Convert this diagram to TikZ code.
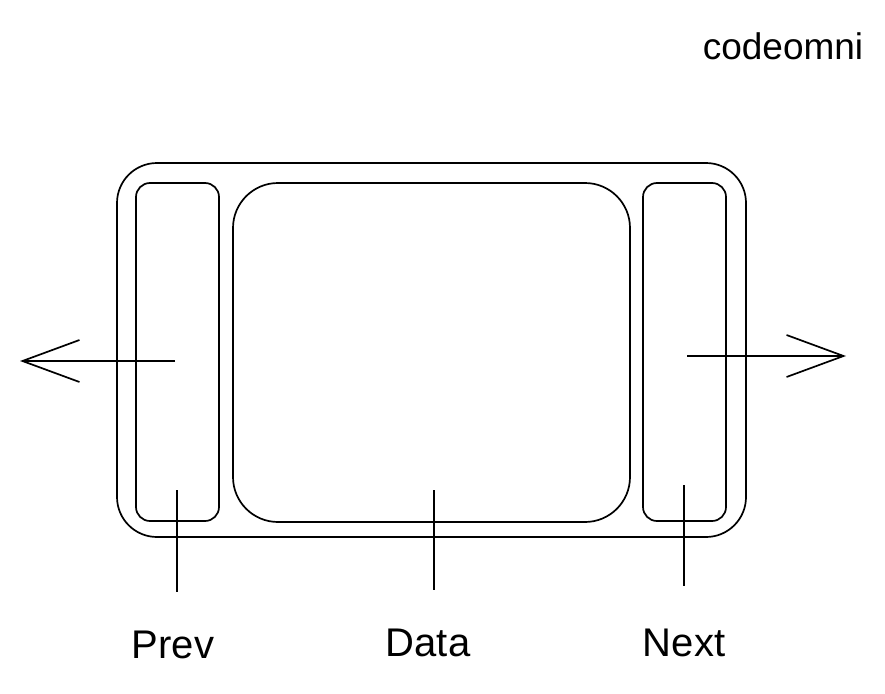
\documentclass[tikz,border=0pt]{standalone}
\usepackage{fontspec}
\setmainfont{Liberation Sans}
\usetikzlibrary{positioning,arrows.meta}

\begin{document}
\begin{tikzpicture}[
  x=1pt,y=-1pt,
  line width=1.7pt,
  box/.style={draw,inner sep=0pt,rounded corners=#1},
  lbl/.style={font=\fontsize{40}{44}\selectfont,inner sep=0pt,anchor=north},
  >={Straight Barb[length=57pt,width=42pt,line width=1.7pt]}
]
\useasboundingbox (0,0) rectangle (885,693);
\node[font=\fontsize{37}{40}\selectfont,inner sep=0pt] (brand) at (783,46) {codeomni};
% node and its three fields
\node[box=40pt,minimum width=629pt,minimum height=374pt] (node) at (431.5,350) {};
\node[box=14pt,minimum width=83pt,minimum height=338pt] (prev) at (177.5,352) {};
\node[box=45pt,minimum width=397pt,minimum height=339pt] (data) at (431.5,352.5) {};
\node[box=14pt,minimum width=83pt,minimum height=338pt] (next) at (684.5,352) {};
% links
\coordinate (pin) at (175,361);
\coordinate (pout) at (20,361);
\coordinate (nin) at (687,356);
\coordinate (nout) at (846,356);
\draw[->] (pin) -- (pout);
\draw[->] (nin) -- (nout);
% pointers to labels
\coordinate (p0) at (177,490);
\coordinate (p1) at (177,592);
\coordinate (d0) at (434,490);
\coordinate (d1) at (434,590);
\coordinate (n0) at (684,485);
\coordinate (n1) at (684,586);
\draw (p0) -- (p1);
\draw (d0) -- (d1);
\draw (n0) -- (n1);
\node[lbl,below=38pt of p1,xshift=-4pt] (prevlbl) {Prev};
\node[lbl,below=38pt of d1,xshift=-6pt] (datalbl) {Data};
\node[lbl,below=42pt of n1] (nextlbl) {Next};
\end{tikzpicture}
\end{document}
